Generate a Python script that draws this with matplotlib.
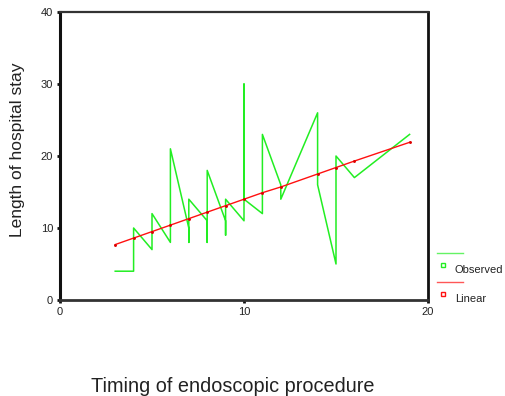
import matplotlib
matplotlib.use('Agg')
import matplotlib.pyplot as plt
from matplotlib.lines import Line2D

plt.rcParams['font.family'] = ['Liberation Sans', 'DejaVu Sans']

# observed values, joined in the order SPSS draws them (sorted by timing)
obs_x = [3, 4, 4, 5, 5, 6, 6, 7, 7, 7, 8, 8, 8, 9, 9, 9, 10, 10, 10, 11, 11, 12, 12, 14, 14, 15, 15, 16, 19]
obs_y = [4, 4, 10, 7, 12, 8, 21, 10, 8, 14, 11, 8, 18, 11, 9, 14, 11, 30, 14, 12, 23, 16, 14, 26, 16, 5, 20, 17, 23]

# linear fit
fit_x = [3, 4, 5, 6, 7, 8, 9, 10, 11, 12, 14, 15, 16, 19]
fit_y = [7.7, 8.6, 9.5, 10.4, 11.3, 12.2, 13.1, 14.0, 14.9, 15.7, 17.5, 18.4, 19.3, 21.9]

x_ticks = [0, 10, 20]
y_ticks = [0, 10, 20, 30, 40]

green = '#22ee22'
red = '#ff1010'

fig = plt.figure(figsize=(5.06, 3.96), dpi=100)
ax = fig.add_axes([60/506, 96/396, 368/506, 288/396])

ax.plot(obs_x, obs_y, color=green, lw=1.1)
ax.plot(fit_x, fit_y, color=red, lw=1.0, marker='o', ms=1.1, mec='#dd0000', mfc='#dd0000')

ax.set_xlim(0, 20)
ax.set_ylim(0, 40)
ax.set_xticks(x_ticks)
ax.set_yticks(y_ticks)
ax.tick_params(labelsize=8, length=2, width=2, pad=3, color='#111111', labelcolor='#222222')

ax.spines['left'].set_linewidth(2.2)
ax.spines['left'].set_color('#111111')
ax.spines['bottom'].set_linewidth(2.0)
ax.spines['bottom'].set_color('#333333')
ax.spines['top'].set_linewidth(1.6)
ax.spines['top'].set_color('#333333')
ax.spines['right'].set_linewidth(2.0)
ax.spines['right'].set_color('#111111')

fig.text(18/506, 1 - 150/396, 'Length of hospital stay', rotation=90,
         ha='center', va='center', fontsize=12.5, color='#222222')
fig.text(233/506, 1 - 386/396, 'Timing of endoscopic procedure',
         ha='center', va='center', fontsize=14.3, color='#222222')

# legend drawn by hand, outside the plot
def fx(p):
    return p / 506

def fy(p):
    return 1 - p / 396

for ly, col, name in [(253, green, 'Observed'), (282, red, 'Linear')]:
    fig.add_artist(Line2D([fx(437), fx(463)], [fy(ly), fy(ly)], color=col, lw=1.0, alpha=0.7))
    fig.add_artist(Line2D([fx(443)], [fy(ly + 12)], color=col, marker='s', ms=3.3,
                          mfc='white', mec=col, mew=1.0, lw=0))
    fig.text(fx(455), fy(ly + 17), name, ha='left', va='center', fontsize=8, color='#222222')

fig.savefig('out.png', dpi=100)
